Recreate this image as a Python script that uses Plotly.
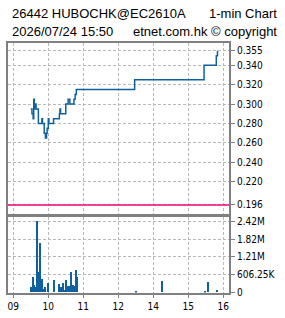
import plotly.graph_objects as go

# ---------------- data ----------------
title_left = "26442 HUBOCHK@EC2610A"
title_right = "1-min Chart"
sub_left = "2026/07/24 15:50"
sub_right = "etnet.com.hk © copyright"

price_times = ["09:30", "09:32", "09:34", "09:35", "09:36", "09:37", "09:38", "09:39",
               "09:43", "09:49", "09:50", "09:53", "09:55", "09:57", "09:58", "10:00",
               "10:01", "10:09", "10:19", "10:20", "10:21", "10:30", "10:34", "10:37",
               "10:44", "10:46", "10:48", "13:28", "15:27", "15:48", "15:50"]
prices = [0.295, 0.290, 0.285, 0.305, 0.300, 0.295, 0.300, 0.295,
          0.280, 0.285, 0.280, 0.270, 0.265, 0.270, 0.275, 0.285,
          0.280, 0.285, 0.290, 0.295, 0.290, 0.300, 0.305, 0.300,
          0.305, 0.310, 0.315, 0.325, 0.340, 0.350, 0.355]

vol_times = ["09:30", "09:32", "09:34", "09:35", "09:39", "09:41", "09:42", "09:44",
             "09:46", "09:47", "09:50", "09:53", "09:55", "10:00", "10:09", "10:10",
             "10:19", "10:21", "10:22", "10:25", "10:27", "10:30", "10:32", "10:34",
             "10:35", "10:39", "10:42", "10:44", "10:46", "10:47", "10:49", "13:30",
             "14:15", "15:29", "15:33", "15:49", "15:50"]
volumes = [188000, 143000, 530000, 242000, 188000, 2425000, 519000, 695000,
           1655000, 165000, 441000, 110000, 165000, 309000, 77000, 408000,
           276000, 110000, 165000, 309000, 77000, 408000, 221000, 188000,
           221000, 695000, 242000, 77000, 221000, 739000, 519000, 40000,
           375000, 30000, 340000, 75000, 75000]

ref_price = 0.196

price_ticks = [0.196, 0.220, 0.240, 0.260, 0.280, 0.300, 0.320, 0.340, 0.355]
price_ticktext = ["0.196", "0.220", "0.240", "0.260", "0.280", "0.300", "0.320", "0.340", "0.355"]
vol_ticks = [0, 606250, 1212500, 1818750, 2425000]
vol_ticktext = ["0", "606.25K", "1.21M", "1.82M", "2.42M"]
x_tick_hours = ["09:00", "10:00", "11:00", "12:00", "14:00", "15:00", "16:00"]
x_ticktext = ["09", "10", "11", "12", "14", "15", "16"]


def trading_hours(t):
    """Map clock time to a continuous trading-time axis (lunch 12:00-13:00 removed)."""
    h, m = map(int, t.split(":"))
    v = h + m / 60.0
    return v - 1 if h >= 13 else v


px = [trading_hours(t) for t in price_times]
vx = [trading_hours(t) for t in vol_times]
xt = [trading_hours(t) for t in x_tick_hours]

W, H = 285, 318
BLUE = "#10609f"
PINK = "#f5077d"
BORDER = "#808080"
GRID = "#b8b8b8"
FONT = "DejaVu Sans Condensed, DejaVu Sans, sans-serif"
TFONT = dict(family="Liberation Sans, Arial, sans-serif", size=13, color="#000")

fig = go.Figure()
fig.add_trace(go.Scatter(x=px, y=prices, mode="lines", line=dict(color=BLUE, width=1.5, shape="hv"),
                         xaxis="x", yaxis="y", hoverinfo="skip"))
fig.add_trace(go.Bar(x=vx, y=volumes, marker=dict(color=BLUE, line=dict(width=0)), width=1.0 / 35,
                     xaxis="x2", yaxis="y2", hoverinfo="skip"))

xrange = [9 - 5.3 / 35, 9 + 215.7 / 35]
xdom = [8 / W, 229 / W]

common_x = dict(range=xrange, domain=xdom, tickvals=xt, ticktext=x_ticktext,
                showgrid=True, gridcolor=GRID, griddash="3px,2px", gridwidth=1,
                showline=True, mirror=True, linecolor=BORDER, linewidth=2, zeroline=False,
                ticks="outside", ticklen=3, tickcolor=BORDER, fixedrange=True)
common_y = dict(side="right", showgrid=True, gridcolor=GRID, griddash="3px,2px", gridwidth=1,
                showline=True, mirror=True, linecolor=BORDER, linewidth=2, zeroline=False,
                ticks="outside", ticklen=4, tickcolor=BORDER, fixedrange=True,
                tickfont=dict(family=FONT, size=10, color="#000"))

fig.update_layout(
    width=W, height=H, margin=dict(l=0, r=0, t=0, b=0),
    paper_bgcolor="white", plot_bgcolor="white", showlegend=False, bargap=0,
    xaxis=dict(common_x, anchor="y", showticklabels=False),
    yaxis=dict(common_y, anchor="x", domain=[(H - 217) / H, (H - 42) / H],
               range=[0.1871, 0.3631], tickvals=price_ticks, ticktext=price_ticktext),
    xaxis2=dict(common_x, anchor="y2", showticklabels=True,
                tickfont=dict(family=FONT, size=10, color="#000")),
    yaxis2=dict(common_y, anchor="x2", domain=[(H - 298) / H, (H - 221) / H],
                range=[0, 2557000], tickvals=vol_ticks, ticktext=vol_ticktext),
    shapes=[dict(type="line", xref="x domain", yref="y", x0=0, x1=1, y0=ref_price, y1=ref_price,
                 line=dict(color=PINK, width=1.5))],
    annotations=[
        dict(text=title_left, x=10 / W, y=1 - 12 / H, xref="paper", yref="paper", xanchor="left",
             yanchor="middle", showarrow=False, font=TFONT),
        dict(text=title_right, x=279 / W, y=1 - 12 / H, xref="paper", yref="paper", xanchor="right",
             yanchor="middle", showarrow=False, font=TFONT),
        dict(text=sub_left, x=10 / W, y=1 - 30.5 / H, xref="paper", yref="paper", xanchor="left",
             yanchor="middle", showarrow=False, font=TFONT),
        dict(text=sub_right, x=279 / W, y=1 - 30.5 / H, xref="paper", yref="paper", xanchor="right",
             yanchor="middle", showarrow=False, font=TFONT),
    ],
)

fig.write_html("out.html", config={"displayModeBar": False})
